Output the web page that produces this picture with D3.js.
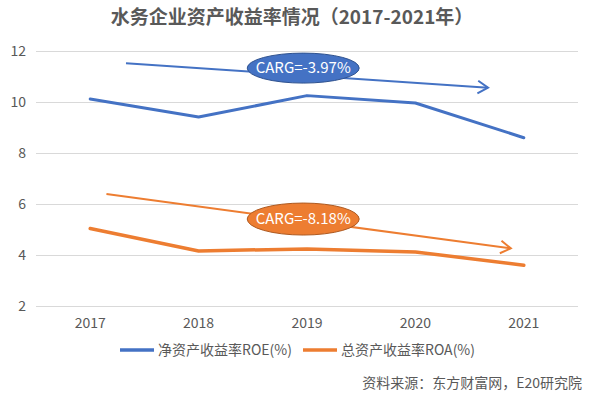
<!DOCTYPE html>
<html><head><meta charset="utf-8">
<script src="https://cdn.jsdelivr.net/npm/d3@7"></script>
<style>
html,body{margin:0;padding:0;background:#fff;}
svg{display:block;font-family:"Noto Sans CJK SC","Noto Sans",sans-serif;}
</style></head>
<body><svg id="c" width="592" height="396"></svg>
<script>
const title = "水务企业资产收益率情况（2017-2021年）";
const years = ["2017","2018","2019","2020","2021"];
const roe = [10.12, 9.41, 10.25, 9.96, 8.6];
const roa = [5.04, 4.16, 4.24, 4.12, 3.6];
const yTicks = [2,4,6,8,10,12];
const seriesNames = ["净资产收益率ROE(%)","总资产收益率ROA(%)"];
const colors = ["#4472C4","#ED7D31"];
const strokeDark = ["#2F528F","#AE5A21"];
// trend arrows: [categoryIndex, value]
const roeTrend = [[0.33, 11.52],[3.67, 10.56]];
const roaTrend = [[0.15, 6.39],[3.88, 4.26]];
const cagrLabels = ["CARG=-3.97%","CARG=-8.18%"];
const cagrAnchor = [[1.965, 11.33],[1.965, 5.41]];
const source = "资料来源：东方财富网，E20研究院";

const svg = d3.select("#c");
const L=36, R=578, T=51, B=306;
const x = d3.scaleBand().domain(years).range([L,R]);
const xi = d3.scaleLinear().domain([0,years.length-1])
  .range([x(years[0])+x.bandwidth()/2, x(years[years.length-1])+x.bandwidth()/2]);
const y = d3.scaleLinear().domain([2,12]).range([B,T]);

svg.append("text").attr("x",292).attr("y",24).attr("text-anchor","middle")
  .attr("font-size",19).attr("font-weight","bold").attr("fill","#595959").text(title);

// grid
const yAxis = d3.axisLeft(y).tickValues(yTicks).tickSize(-(R-L)).tickPadding(10);
const gy = svg.append("g").attr("transform",`translate(${L},0)`).call(yAxis);
gy.select(".domain").remove();
gy.selectAll(".tick line").attr("stroke","#D9D9D9").attr("stroke-width",1);
gy.selectAll(".tick text").attr("fill","#595959").attr("font-size",14)
  .attr("font-family","'Noto Sans CJK SC',sans-serif");

const xAxis = d3.axisBottom(x).tickSize(0).tickPadding(12);
const gx = svg.append("g").attr("transform",`translate(0,${B})`).call(xAxis);
gx.select(".domain").remove();
gx.selectAll(".tick text").attr("fill","#595959").attr("font-size",14)
  .attr("font-family","'Noto Sans CJK SC',sans-serif");

const line = d3.line().x((d,i)=>x(years[i])+x.bandwidth()/2).y(d=>y(d));
[roe,roa].forEach((s,k)=>{
  svg.append("path").datum(s).attr("d",line).attr("fill","none")
    .attr("stroke",colors[k]).attr("stroke-width",k===0?3:3.5)
    .attr("stroke-linejoin","round").attr("stroke-linecap","round");
});

// trend arrows
[roeTrend, roaTrend].forEach((t,k)=>{
  const x1=xi(t[0][0]), y1=y(t[0][1]), x2=xi(t[1][0]), y2=y(t[1][1]);
  svg.append("line").attr("x1",x1).attr("y1",y1).attr("x2",x2).attr("y2",y2)
    .attr("stroke",colors[k]).attr("stroke-width",2);
  const a=Math.atan2(y2-y1,x2-x1), len=12, sp=0.55;
  const p1=[x2-len*Math.cos(a-sp), y2-len*Math.sin(a-sp)];
  const p2=[x2-len*Math.cos(a+sp), y2-len*Math.sin(a+sp)];
  svg.append("path").attr("d",`M${p1[0]},${p1[1]}L${x2},${y2}L${p2[0]},${p2[1]}`)
    .attr("fill","none").attr("stroke",colors[k]).attr("stroke-width",2)
    .attr("stroke-linejoin","miter");
});

// CAGR ellipses
cagrAnchor.forEach((c,k)=>{
  const cx=xi(c[0]), cy=y(c[1]);
  svg.append("ellipse").attr("cx",cx).attr("cy",cy).attr("rx",56).attr("ry",k===0?15:16)
    .attr("fill",colors[k]).attr("stroke",strokeDark[k]).attr("stroke-width",1);
  svg.append("text").attr("x",cx).attr("y",cy).attr("dy","0.36em").attr("text-anchor","middle")
    .attr("fill","#fff").attr("font-size",15).text(cagrLabels[k]);
});

// legend
const legX=[120,303];
seriesNames.forEach((n,k)=>{
  svg.append("line").attr("x1",legX[k]).attr("x2",legX[k]+34).attr("y1",350).attr("y2",350)
    .attr("stroke",colors[k]).attr("stroke-width",3.5);
  svg.append("text").attr("x",legX[k]+38).attr("y",350).attr("dy","0.36em")
    .attr("font-size",14).attr("fill","#595959").text(n);
});

svg.append("text").attr("x",582).attr("y",383).attr("dy","0.36em").attr("text-anchor","end")
  .attr("font-size",14).attr("fill","#595959").text(source);
</script></body></html>
